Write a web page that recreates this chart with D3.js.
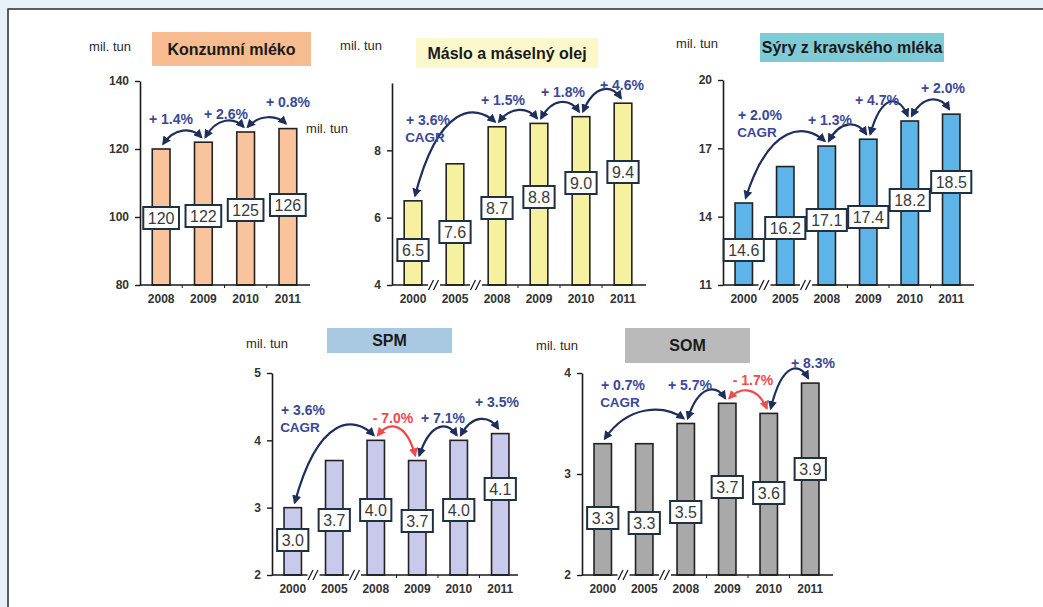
<!DOCTYPE html>
<html>
<head>
<meta charset="utf-8">
<script src="https://cdn.jsdelivr.net/npm/d3@7/dist/d3.min.js"></script>
<style>
  html, body { margin: 0; padding: 0; background: #e8f0f8; }
  svg { display: block; }
  text { font-family: "Liberation Sans", Arial, sans-serif; }
</style>
</head>
<body>
<svg id="chart" width="1043" height="607"></svg>
<script>
// ---- data ----
const years4 = ["2008", "2009", "2010", "2011"];
const years6 = ["2000", "2005", "2008", "2009", "2010", "2011"];

const milkValues = [120, 122, 125, 126];
const butterValues = [6.5, 7.6, 8.7, 8.8, 9.0, 9.4];
const cheeseValues = [14.6, 16.2, 17.1, 17.4, 18.2, 18.5];
const spmValues = [3.0, 3.7, 4.0, 3.7, 4.0, 4.1];
const somValues = [3.3, 3.3, 3.5, 3.7, 3.6, 3.9];

const milkGrowth = ["+ 1.4%", "+ 2.6%", "+ 0.8%"];
const butterGrowth = ["+ 3.6%", "+ 1.5%", "+ 1.8%", "+ 4.6%"];
const cheeseGrowth = ["+ 2.0%", "+ 1.3%", "+ 4.7%", "+ 2.0%"];
const spmGrowth = ["+ 3.6%", "- 7.0%", "+ 7.1%", "+ 3.5%"];
const somGrowth = ["+ 0.7%", "+ 5.7%", "- 1.7%", "+ 8.3%"];

const milkTicks = [80, 100, 120, 140];
const butterTicks = [4, 6, 8];
const cheeseTicks = [11, 14, 17, 20];
const spmTicks = [2, 3, 4, 5];
const somTicks = [2, 3, 4];

const titles = ["Konzumní mléko", "Máslo a máselný olej", "Sýry z kravského mléka", "SPM", "SOM"];
const unitLabel = "mil. tun";
const cagrLabel = "CAGR";

// ---- layout of the five panels ----
// arrows: [from index, to index, lift]; growth text placed at textPos
const panels = [
  {
    title: titles[0], cats: years4, values: milkValues, growth: milkGrowth, ticks: milkTicks,
    domain: [80, 140], barFill: "#f9c39b", titleFill: "#f7bb90",
    x0: 140, x1: 309, yb: 285, yt: 81, axisEnd: 310,
    titleBox: [152, 32, 159, 34], unit: [110, 46],
    boxY: [218, 216, 210, 205],
    arrows: [[0, 1, 10], [1, 2, 10], [2, 3, 9]],
    textPos: [[171, 119], [226, 114], [288, 102]],
    cagr: false, breaks: false
  },
  {
    title: titles[1], cats: years6, values: butterValues, growth: butterGrowth, ticks: butterTicks,
    domain: [4, 10], barFill: "#f5f19f", titleFill: "#fbf8cb",
    x0: 392, x1: 644, yb: 285, yt: 83, axisEnd: 646,
    titleBox: [416, 38, 182, 30], unit: [361, 45],
    boxY: [250, 232, 208, 197, 183, 172],
    arrows: [[0, 2, 18], [2, 3, 12], [3, 4, 14], [4, 5, 14]],
    textPos: [[428, 120], [503, 100], [563, 92], [622, 85]],
    cagr: true, breaks: true
  },
  {
    title: titles[2], cats: years6, values: cheeseValues, growth: cheeseGrowth, ticks: cheeseTicks,
    domain: [11, 20], barFill: "#5db4e8", titleFill: "#7ecbd6",
    x0: 723, x1: 972, yb: 285, yt: 80, axisEnd: 974,
    titleBox: [760, 33, 184, 29], unit: [697, 43],
    boxY: [250, 228, 220, 217, 200, 182],
    arrows: [[0, 2, 18], [2, 3, 14], [3, 4, 22], [4, 5, 14]],
    textPos: [[760, 115], [830, 120], [877, 100], [943, 88]],
    cagr: true, breaks: true
  },
  {
    title: titles[3], cats: years6, values: spmValues, growth: spmGrowth, ticks: spmTicks,
    domain: [2, 5], barFill: "#c9c9ec", titleFill: "#a9c9e3",
    x0: 272, x1: 521, yb: 575, yt: 373, axisEnd: 518,
    titleBox: [327, 328, 125, 25], unit: [267, 343],
    boxY: [540, 520, 510, 521, 510, 489],
    arrows: [[0, 2, 20], [2, 3, 14], [3, 4, 14], [4, 5, 14]],
    textPos: [[303, 410], [393, 418], [443, 418], [497, 402]],
    cagr: true, breaks: true
  },
  {
    title: titles[4], cats: years6, values: somValues, growth: somGrowth, ticks: somTicks,
    domain: [2, 4], barFill: "#a9a9a9", titleFill: "#bababa",
    x0: 582, x1: 831, yb: 575, yt: 373, axisEnd: 833,
    titleBox: [625, 328, 125, 35], unit: [557, 345],
    boxY: [518, 523, 512, 487, 493, 469],
    arrows: [[0, 2, 14], [2, 3, 14], [3, 4, 12], [4, 5, 16]],
    textPos: [[623, 385], [690, 385], [753, 380], [813, 363]],
    cagr: true, breaks: true
  }
];

const svg = d3.select("#chart");
const ink = "#333333";
const navy = "#3a4896";
const arrowNavy = "#1f2f5c";
const red = "#f04a4a";

// page frame
svg.append("rect").attr("x", 8).attr("y", 9).attr("width", 1040).attr("height", 610)
  .attr("fill", "#ffffff").attr("stroke", "#2a2a2a").attr("stroke-width", 1.5);

// arrowheads
const defs = svg.append("defs");
[["head-navy", arrowNavy], ["head-red", red]].forEach(([id, col]) => {
  defs.append("marker").attr("id", id)
    .attr("viewBox", "0 0 10 10").attr("refX", 8).attr("refY", 5)
    .attr("markerWidth", 9).attr("markerHeight", 9)
    .attr("markerUnits", "userSpaceOnUse")
    .attr("orient", "auto-start-reverse")
    .append("path").attr("d", "M0,0 L10,5 L0,10 Z").attr("fill", col);
});

panels.forEach(p => {
  const g = svg.append("g");
  const x = d3.scaleBand().domain(p.cats).range([p.x0, p.x1])
    .paddingInner(0.58).paddingOuter(0.29);
  const y = d3.scaleLinear().domain(p.domain).range([p.yb, p.yt]);

  // title box
  const [tx, ty, tw, th] = p.titleBox;
  g.append("rect").attr("x", tx).attr("y", ty).attr("width", tw).attr("height", th)
    .attr("fill", p.titleFill);
  g.append("text").attr("x", tx + tw / 2).attr("y", ty + th / 2)
    .attr("text-anchor", "middle").attr("dominant-baseline", "central")
    .attr("font-size", 16).attr("font-weight", "bold").attr("fill", "#1a1a1a")
    .text(p.title);

  // unit label
  g.append("text").attr("x", p.unit[0]).attr("y", p.unit[1])
    .attr("text-anchor", "middle").attr("dominant-baseline", "central")
    .attr("font-size", 13).attr("fill", "#2a2a2a")
    .text(unitLabel);

  // bars
  g.selectAll("rect.bar").data(p.values).join("rect").attr("class", "bar")
    .attr("x", (d, i) => x(p.cats[i]))
    .attr("width", x.bandwidth())
    .attr("y", d => y(d))
    .attr("height", d => p.yb - y(d))
    .attr("fill", p.barFill).attr("stroke", "#222222").attr("stroke-width", 1.6);

  // y axis
  const ya = g.append("g").attr("transform", `translate(${p.x0},0)`)
    .call(d3.axisLeft(y).tickValues(p.ticks).tickFormat(d3.format("d"))
      .tickSize(5).tickSizeOuter(0).tickPadding(6));
  ya.select(".domain").attr("stroke", "#1a1a1a").attr("stroke-width", 1.6);
  ya.selectAll(".tick line").attr("stroke", "#1a1a1a").attr("stroke-width", 1.4);
  ya.selectAll(".tick text").attr("font-size", 12).attr("font-weight", "bold")
    .attr("fill", ink).style("font-family", "'Liberation Sans', Arial, sans-serif");

  // x axis
  const xa = g.append("g").attr("transform", `translate(0,${p.yb})`)
    .call(d3.axisBottom(x).tickSize(0).tickPadding(9));
  xa.select(".domain").attr("d", `M${p.x0},0H${p.axisEnd}`)
    .attr("stroke", "#1a1a1a").attr("stroke-width", 1.6);
  xa.selectAll(".tick text").attr("font-size", 12).attr("font-weight", "bold")
    .attr("fill", ink).style("font-family", "'Liberation Sans', Arial, sans-serif");

  // small separators between categories on the x axis
  const step = x.step();
  p.cats.slice(1).forEach(c => {
    const bx = x(c) + x.bandwidth() / 2 - step / 2;
    g.append("line").attr("x1", bx).attr("x2", bx).attr("y1", p.yb).attr("y2", p.yb + 3)
      .attr("stroke", "#1a1a1a").attr("stroke-width", 1);
  });

  // axis break marks between 2000/2005 and 2005/2008
  if (p.breaks) {
    [1, 2].forEach(k => {
      const bx = x(p.cats[k]) + x.bandwidth() / 2 - step / 2;
      g.append("rect").attr("x", bx - 6).attr("y", p.yb - 3).attr("width", 12).attr("height", 7)
        .attr("fill", "#ffffff");
      [-3, 2].forEach(o => {
        g.append("line")
          .attr("x1", bx + o - 2.5).attr("y1", p.yb + 5)
          .attr("x2", bx + o + 2.5).attr("y2", p.yb - 5)
          .attr("stroke", "#1a1a1a").attr("stroke-width", 1.3);
      });
    });
  }

  // growth arrows between bar tops
  p.arrows.forEach(([a, b, lift], k) => {
    const txt = p.growth[k];
    const neg = txt.trim().startsWith("-");
    const col = neg ? red : arrowNavy;
    const xa0 = x(p.cats[a]) + x.bandwidth() / 2 + 2;
    const xb0 = x(p.cats[b]) + x.bandwidth() / 2 - 2;
    const ya0 = y(p.values[a]) - 5;
    const yb0 = y(p.values[b]) - 5;
    const top = Math.min(ya0, yb0) - lift;
    const dx = xb0 - xa0;
    const path = d3.path();
    path.moveTo(xa0, ya0);
    path.bezierCurveTo(xa0 + dx * 0.3, top, xa0 + dx * 0.75, top, xb0, yb0);
    g.append("path").attr("d", path.toString())
      .attr("fill", "none").attr("stroke", col).attr("stroke-width", 2.2)
      .attr("marker-start", `url(#${neg ? "head-red" : "head-navy"})`)
      .attr("marker-end", `url(#${neg ? "head-red" : "head-navy"})`);

    const [px, py] = p.textPos[k];
    g.append("text").attr("x", px).attr("y", py)
      .attr("text-anchor", "middle").attr("dominant-baseline", "central")
      .attr("font-size", 14).attr("font-weight", "bold")
      .attr("fill", neg ? red : navy)
      .text(txt);
    if (p.cagr && k === 0) {
      g.append("text").attr("x", px - 3).attr("y", py + 17)
        .attr("text-anchor", "middle").attr("dominant-baseline", "central")
        .attr("font-size", 13.5).attr("font-weight", "bold")
        .attr("fill", navy)
        .text(cagrLabel);
    }
  });

  // value boxes
  p.values.forEach((v, i) => {
    const cx = x(p.cats[i]) + x.bandwidth() / 2;
    const cy = p.boxY[i];
    const label = p.domain[1] > 50 ? d3.format("d")(v) : d3.format(".1f")(v);
    const t = g.append("text").attr("x", cx).attr("y", cy)
      .attr("text-anchor", "middle").attr("dominant-baseline", "central")
      .attr("font-size", 16).attr("fill", "#3a3a3a").text(label);
    const w = t.node().getComputedTextLength() + 9;
    g.insert("rect", () => t.node())
      .attr("x", cx - w / 2).attr("y", cy - 11).attr("width", w).attr("height", 22)
      .attr("fill", "#ffffff").attr("stroke", "#1f3040").attr("stroke-width", 2);
  });
});

// second unit label beside the first panel
svg.append("text").attr("x", 327).attr("y", 128)
  .attr("text-anchor", "middle").attr("dominant-baseline", "central")
  .attr("font-size", 13).attr("fill", "#2a2a2a").text(unitLabel);
</script>
</body>
</html>
